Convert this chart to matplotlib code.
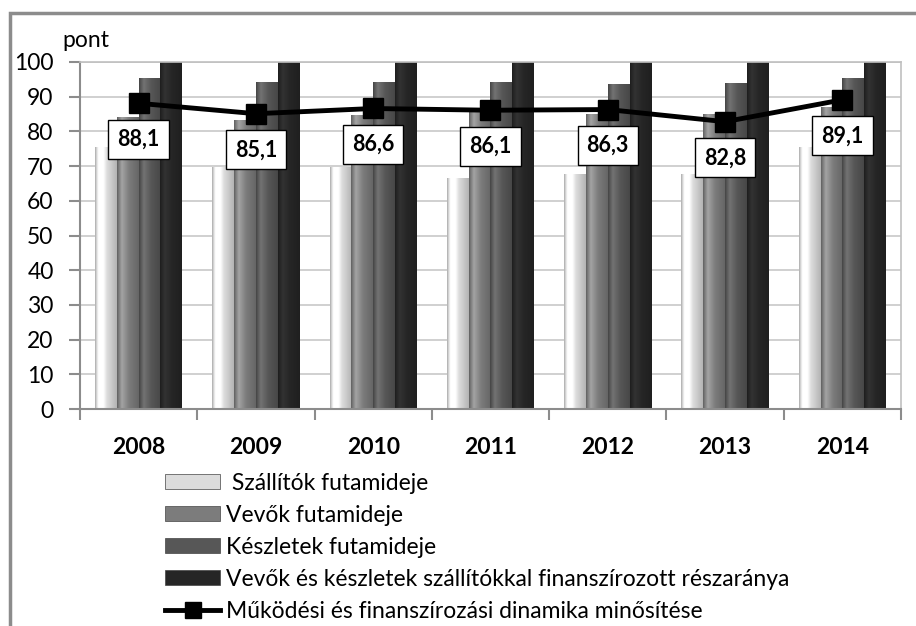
import numpy as np
import matplotlib
matplotlib.use('Agg')
import matplotlib.pyplot as plt
from matplotlib.patches import Patch, Rectangle
from matplotlib.lines import Line2D

plt.rcParams['font.family'] = ['Lato', 'DejaVu Sans']

# adatok
evek = ['2008', '2009', '2010', '2011', '2012', '2013', '2014']
szallitok = [75.5, 69.5, 69.5, 66.5, 67.5, 67.5, 75.5]
vevok = [84, 83, 84.5, 85.5, 85, 85, 87]
keszletek = [95.3, 94, 94.2, 94, 93.5, 93.8, 95.3]
finansz = [120, 120, 120, 120, 120, 120, 120]
minosites = [88.1, 85.1, 86.6, 86.1, 86.3, 82.8, 89.1]

nevek = [' Szállítók futamideje', 'Vevők futamideje', 'Készletek futamideje',
         'Vevők és készletek szállítókkal finanszírozott részaránya',
         'Működési és finanszírozási dinamika minősítése']
szinek = ['#dcdcdc', '#7c7c7c', '#575757', '#262626']


def grad_img(base):
    # egyszeru "domboru" szinatmenet a bar szelessegen
    c = np.array(matplotlib.colors.to_rgb(base))
    t = np.linspace(0, 1, 64)
    f = np.interp(t, [0, 0.06, 0.22, 0.55, 1.0], [0.78, 0.95, 1.32, 1.0, 0.82])
    img = np.clip(c[None, :] * f[:, None], 0, 1)
    return img[None, :, :]


def shade(bars, base):
    for b in bars:
        x0, y0 = b.get_x(), b.get_y()
        w, h = b.get_width(), b.get_height()
        im = ax.imshow(grad_img(base), extent=[x0, x0 + w, y0, y0 + h],
                       aspect='auto', zorder=2, interpolation='bilinear')
        im.set_clip_path(b)
        im.set_clip_box(ax.bbox)


fig = plt.figure(figsize=(9.16, 6.26), dpi=100)
ax = fig.add_axes([80 / 916, 1 - 409 / 626, 821 / 916, 347 / 626])

x = np.arange(len(evek))
w = 0.186
for i, (vals, c) in enumerate(zip([szallitok, vevok, keszletek, finansz], szinek)):
    bars = ax.bar(x + (i - 1.5) * w, vals, w, color=c, zorder=1, linewidth=0)
    shade(bars, c)

ax.plot(x, minosites, color='black', lw=3.5, marker='s', ms=14.5, zorder=4)
for xi, v in zip(x, minosites):
    ax.annotate(('%.1f' % v).replace('.', ','), (xi, v), xytext=(0, -26),
                textcoords='offset points', ha='center', va='center',
                fontsize=15.5, fontweight='bold', zorder=5,
                bbox=dict(boxstyle='square,pad=0.42', fc='white', ec='black', lw=1))

ax.set_xlim(-0.5, 6.5)
ax.set_ylim(0, 100)
ax.set_yticks(range(0, 101, 10))
ax.yaxis.grid(True, color='#c8c8c8', lw=1.2, zorder=0)
ax.set_axisbelow(True)
ax.set_xticks(x)
ax.set_xticklabels(evek, fontsize=16.5, fontweight='bold')
ax.set_xticks(np.arange(-0.5, 7, 1), minor=True)
ax.tick_params(axis='x', which='major', length=0, pad=20)
ax.tick_params(axis='x', which='minor', length=8, width=1.5, color='#8c8c8c', direction='out')
ax.tick_params(axis='y', length=8, width=1.5, color='#8c8c8c', labelsize=16.5, pad=11)
for s in ['left', 'bottom']:
    ax.spines[s].set_color('#8c8c8c')
    ax.spines[s].set_linewidth(1.5)
for s in ['top', 'right']:
    ax.spines[s].set_color('#c0c0c0')
    ax.spines[s].set_linewidth(1.2)

fig.text(0.068, 0.936, 'pont', fontsize=16.5, va='center')

handles = [Patch(fc=c, ec='#444444', lw=0.5) for c in szinek]
handles.append(Line2D([], [], color='black', lw=3.5, marker='s', ms=12))
fig.legend(handles, nevek, loc='upper left', bbox_to_anchor=(0.168, 0.263),
           frameon=False, fontsize=16.5, handlelength=2.4, handleheight=0.6,
           handletextpad=0.25, labelspacing=0.48, borderpad=0)

fig.patches.append(Rectangle((10 / 916, -0.1), 1.2, 1 - 12.5 / 626 + 0.1,
                             transform=fig.transFigure, fill=False, ec='#8c8c8c', lw=2.5))

plt.savefig('out.png', dpi=100)
